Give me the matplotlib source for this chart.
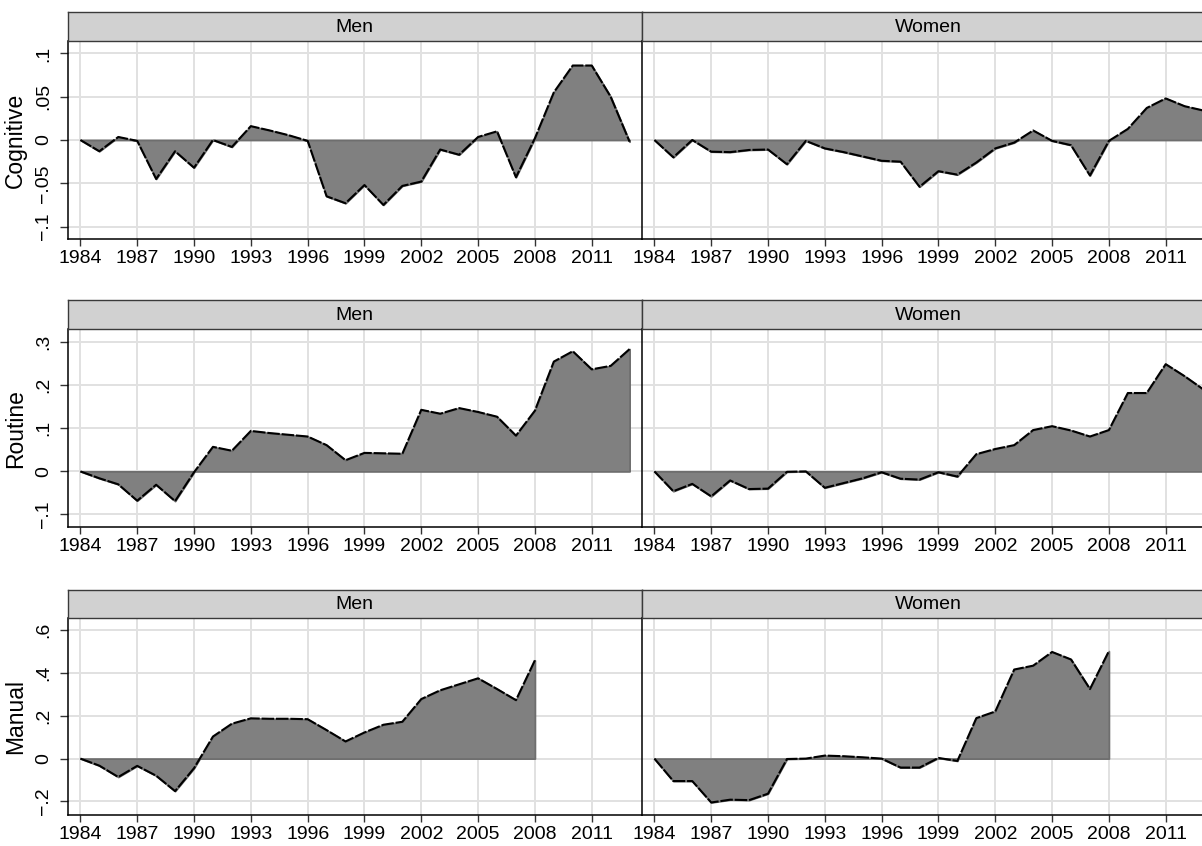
import numpy as np
import matplotlib
matplotlib.use("Agg")
import matplotlib.pyplot as plt

plt.rcParams['font.family'] = ['Liberation Sans', 'DejaVu Sans']

years = list(range(1984, 2014))
xtick_years = list(range(1984, 2012, 3))

cog_men = [0, -0.013, 0.0035, -0.001, -0.045, -0.013, -0.032, 0.0, -0.008, 0.016,
           0.011, 0.0055, -0.001, -0.065, -0.073, -0.052, -0.075, -0.053, -0.048, -0.011,
           -0.017, 0.0035, 0.010, -0.043, 0.002, 0.055, 0.086, 0.086, 0.050, -0.002]
cog_women = [0, -0.020, 0, -0.0135, -0.014, -0.0115, -0.011, -0.028, -0.001, -0.0097,
             -0.014, -0.019, -0.024, -0.025, -0.054, -0.036, -0.040, -0.026, -0.0097, -0.003,
             0.011, -0.001, -0.006, -0.041, -0.001, 0.0128, 0.037, 0.048, 0.039, 0.034]
rout_men = [0, -0.016, -0.030, -0.068, -0.031, -0.069, -0.002, 0.057, 0.048, 0.094,
            0.089, 0.085, 0.081, 0.061, 0.026, 0.043, 0.042, 0.041, 0.143, 0.134,
            0.147, 0.138, 0.127, 0.083, 0.141, 0.255, 0.279, 0.237, 0.245, 0.284]
rout_women = [0, -0.046, -0.029, -0.058, -0.021, -0.041, -0.040, -0.001, 0, -0.038,
              -0.027, -0.016, -0.002, -0.017, -0.019, -0.002, -0.012, 0.040, 0.052, 0.061,
              0.096, 0.105, 0.095, 0.081, 0.096, 0.182, 0.182, 0.249, 0.221, 0.190]
man_men = [0, -0.033, -0.086, -0.034, -0.080, -0.152, -0.045, 0.103, 0.163, 0.188,
           0.186, 0.186, 0.184, 0.133, 0.080, 0.122, 0.158, 0.172, 0.278, 0.319,
           0.347, 0.375, 0.325, 0.273, 0.459, None, None, None, None, None]
man_women = [0, -0.105, -0.105, -0.205, -0.192, -0.194, -0.164, -0.002, 0, 0.014,
             0.011, 0.006, 0, -0.042, -0.042, 0.003, -0.011, 0.189, 0.220, 0.416,
             0.434, 0.498, 0.463, 0.325, 0.502, None, None, None, None, None]

rows = ["Cognitive", "Routine", "Manual"]
cols = ["Men", "Women"]
series = {
    ("Cognitive", "Men"): cog_men, ("Cognitive", "Women"): cog_women,
    ("Routine", "Men"): rout_men, ("Routine", "Women"): rout_women,
    ("Manual", "Men"): man_men, ("Manual", "Women"): man_women,
}
yticks = {
    "Cognitive": [-0.1, -0.05, 0, 0.05, 0.1],
    "Routine": [-0.1, 0, 0.1, 0.2, 0.3],
    "Manual": [-0.2, 0, 0.2, 0.4, 0.6],
}
yticklabels = {
    "Cognitive": ["\u2212.1", "\u2212.05", "0", ".05", ".1"],
    "Routine": ["\u2212.1", "0", ".1", ".2", ".3"],
    "Manual": ["\u2212.2", "0", ".2", ".4", ".6"],
}
ylims = {
    "Cognitive": (-0.1143, 0.1143),
    "Routine": (-0.1291, 0.3295),
    "Manual": (-0.2635, 0.659),
}

W, H = 1202, 846
fig = plt.figure(figsize=(W / 100, H / 100), dpi=100)

row_layout = {
    "Cognitive": (12, 41, 239),
    "Routine": (300, 329.5, 527),
    "Manual": (589.5, 617.5, 815),
}
col_left = {"Men": 67.7, "Women": 641.7}
col_w = 574.0

fill_c = "#808080"
edge_c = "#6e6e6e"
grid_c = "#e1e1e1"
strip_c = "#d1d1d1"
fs = 14

for r in rows:
    s_top, a_top, a_bot = row_layout[r]
    for c in cols:
        x0 = col_left[c] / W
        w = col_w / W
        ax = fig.add_axes([x0, 1 - a_bot / H, w, (a_bot - a_top) / H])
        vals = np.array([np.nan if v is None else v for v in series[(r, c)]], dtype=float)
        yrs = np.array(years, dtype=float)
        m = np.isfinite(vals)
        ax.fill_between(yrs[m], 0, vals[m], facecolor=fill_c, edgecolor=edge_c,
                        linewidth=1.3, zorder=2)
        ax.plot(yrs[m], vals[m], color="black", linewidth=1.5,
                linestyle=(0, (6.0, 0.9)), zorder=3)
        ax.set_xlim(1983.33, 2013.64)
        ax.set_ylim(*ylims[r])
        ax.set_xticks(xtick_years)
        ax.set_xticklabels([str(y) for y in xtick_years], fontsize=fs)
        ax.set_yticks(yticks[r])
        ax.grid(True, color=grid_c, linewidth=1.4, zorder=0)
        ax.set_axisbelow(True)
        for sp in ["top", "right"]:
            ax.spines[sp].set_visible(False)
        ax.spines["left"].set_color("black")
        ax.spines["bottom"].set_color("black")
        ax.spines["left"].set_linewidth(1.1)
        ax.spines["bottom"].set_linewidth(1.1)
        ax.tick_params(axis="x", direction="out", length=5, width=1.0,
                       color="#333333", pad=3, labelcolor="black")
        if c == "Men":
            ax.set_yticklabels(yticklabels[r], fontsize=fs, rotation=90, va="center")
            ax.tick_params(axis="y", direction="out", length=6, width=1.0,
                           color="#333333", pad=5)
            ax.set_ylabel(r, fontsize=16.5, labelpad=6)
        else:
            ax.tick_params(axis="y", length=0, labelleft=False)
        sax = fig.add_axes([x0, 1 - a_top / H, w, (a_top - s_top) / H])
        sax.set_facecolor(strip_c)
        sax.set_xticks([])
        sax.set_yticks([])
        for sp in sax.spines.values():
            sp.set_color("#3a3a3a")
            sp.set_linewidth(1.0)
        sax.text(0.5, 0.47, c, ha="center", va="center", fontsize=fs,
                 transform=sax.transAxes)

fig.savefig("out.png", dpi=100)
